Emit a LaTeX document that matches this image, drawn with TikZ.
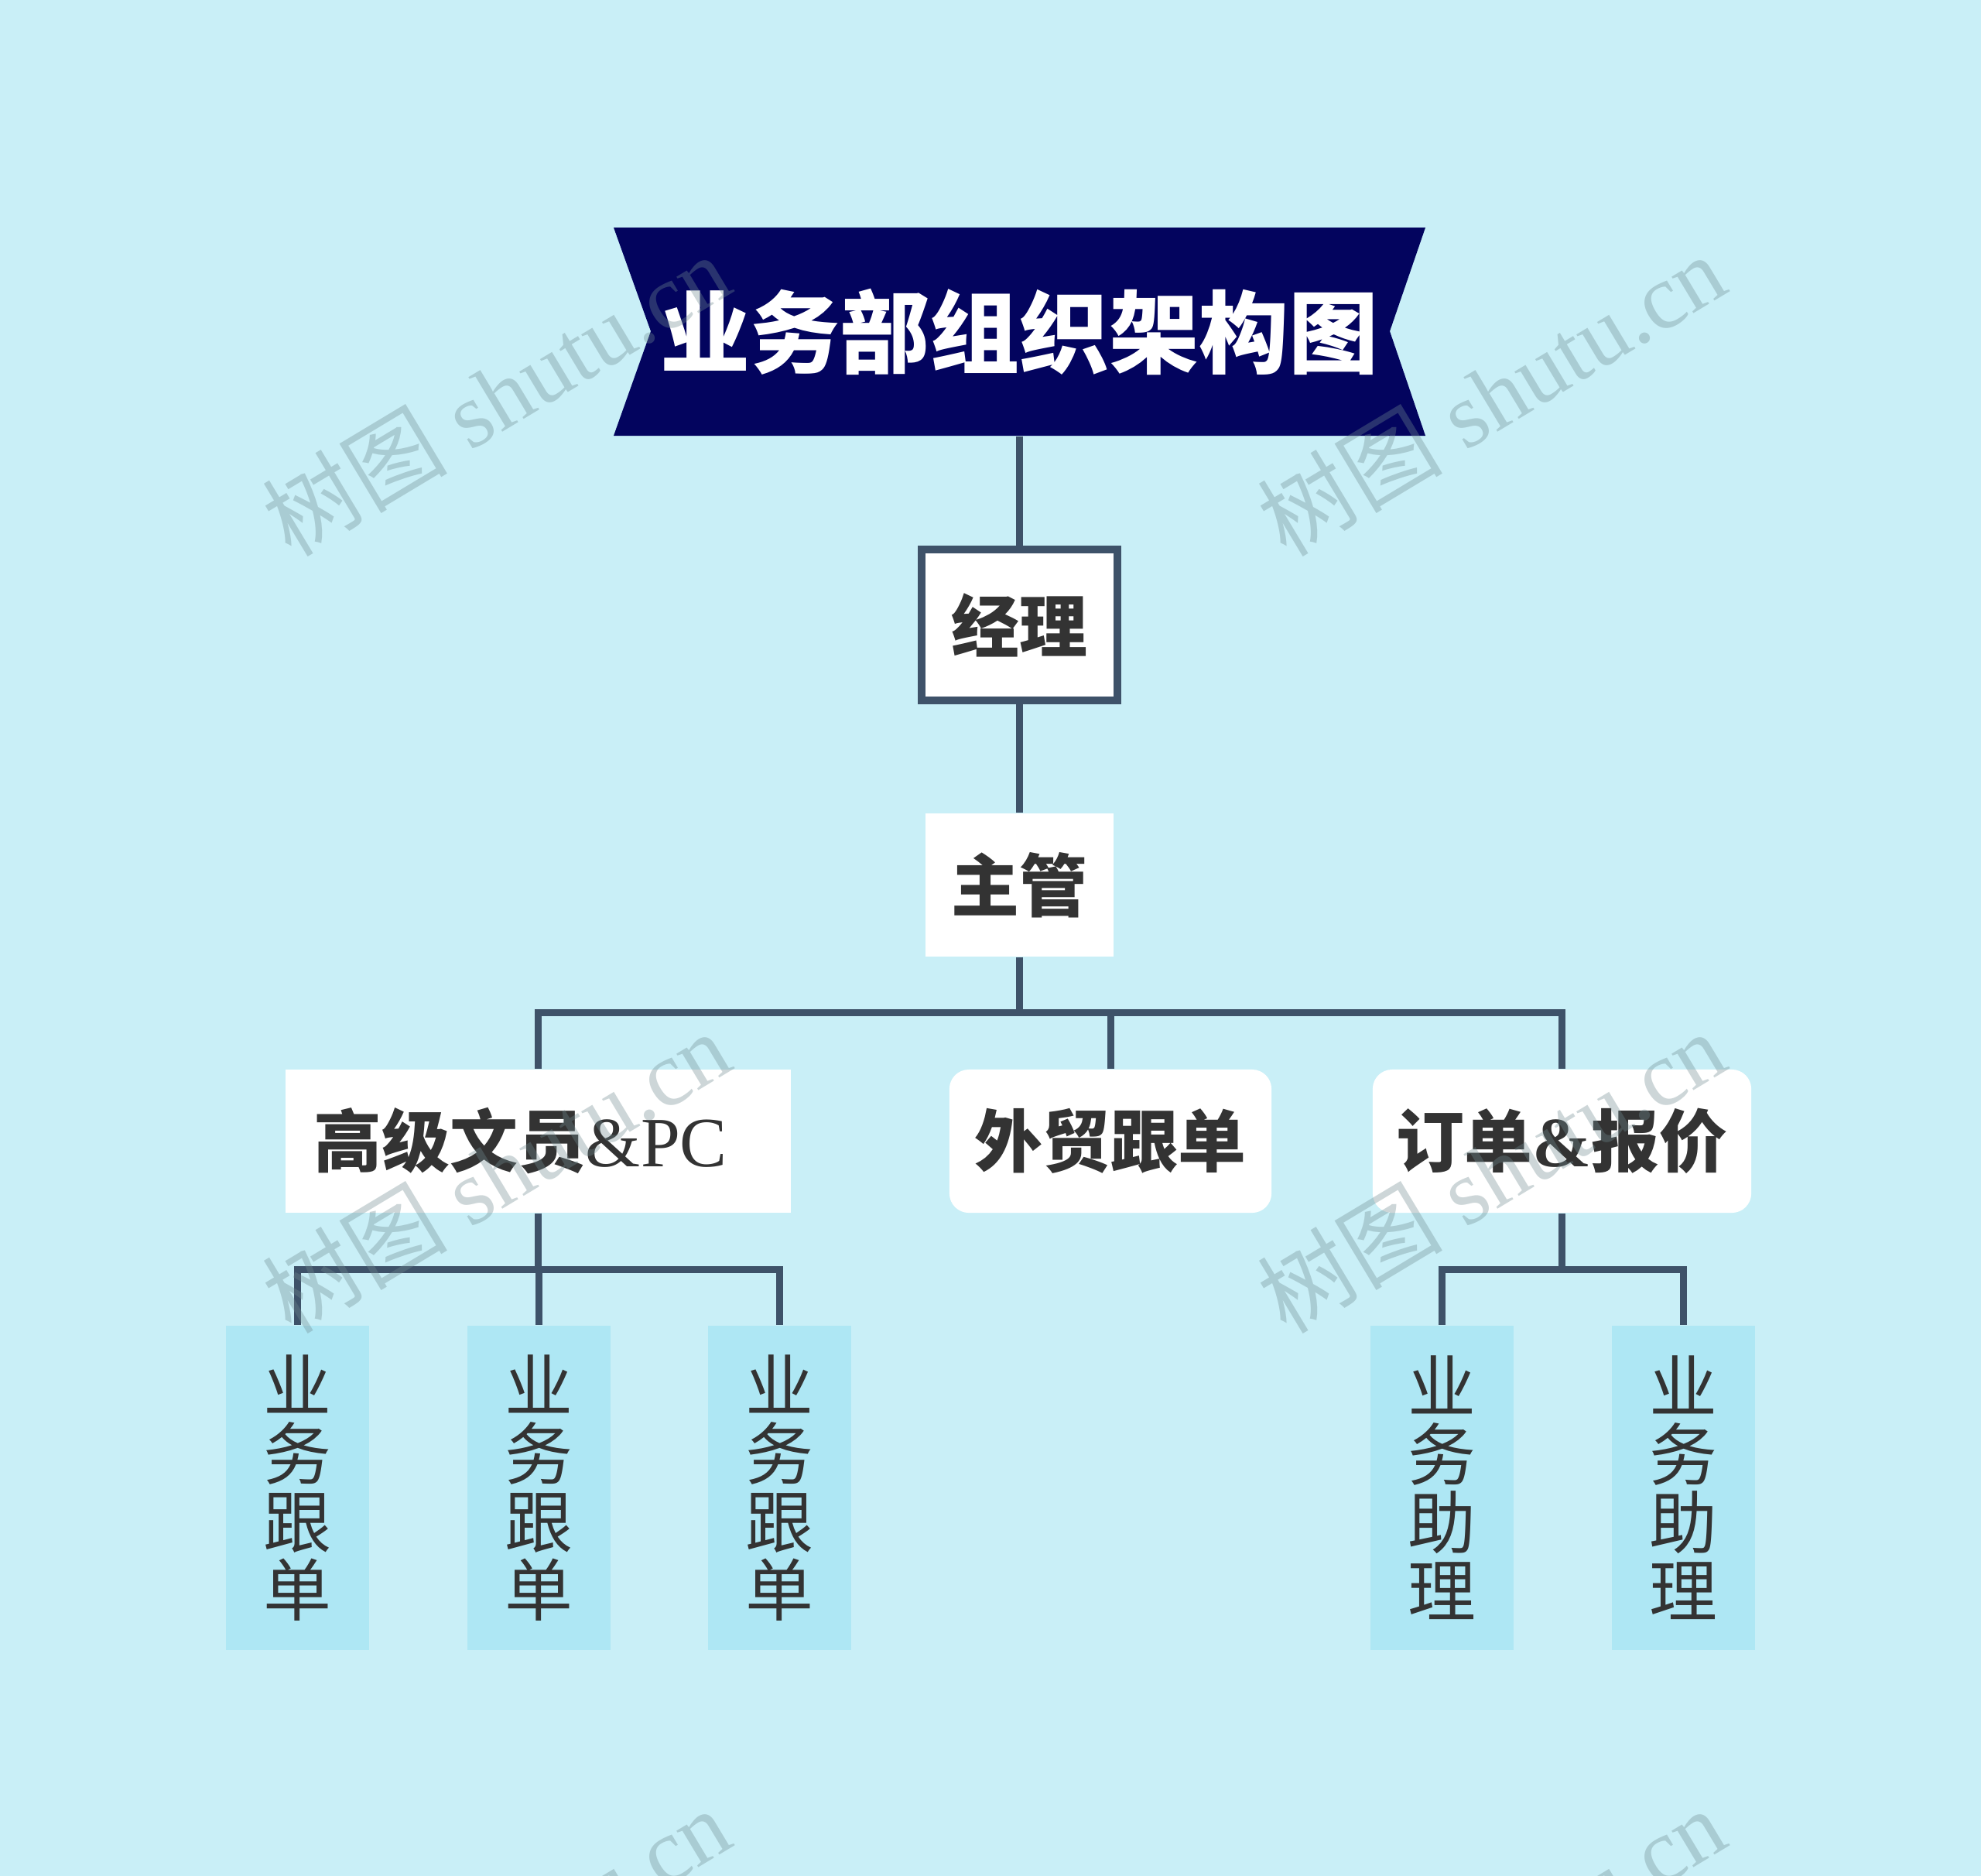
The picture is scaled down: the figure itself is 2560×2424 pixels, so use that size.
\documentclass[tikz,border=0pt]{standalone}
\usepackage{fontspec}
\setmainfont{Liberation Serif}
\newfontfamily\cjk{Noto Sans CJK SC}
\definecolor{sky}{HTML}{C9EFF7}
\definecolor{navy}{HTML}{03045E}
\definecolor{slate}{HTML}{3E5269}
\definecolor{pale}{HTML}{AEE7F4}
\definecolor{ink}{HTML}{333333}
\definecolor{mark}{HTML}{708B90}
\tikzset{
	head/.style = {fill = white, text = ink, inner sep = 0pt, minimum height = 1.85cm, font = \cjk\bfseries\fontsize{25}{25}\selectfont},
	staff/.style = {fill = pale, text = ink, inner sep = 0pt, minimum width = 1.85cm, minimum height = 4.19cm, align = center, font = \cjk\fontsize{25}{25}\selectfont},
	link/.style = {draw = slate, line width = 0.09cm},
	wmark/.style = {text = mark, opacity = 0.35, rotate = 31, font = \fontsize{34}{34}\selectfont}
}
\begin{document}
\begin{tikzpicture}[x = 0.01cm, y = -0.01cm]
	\useasboundingbox (0,0) rectangle (2560,2424);
	\clip (0,0) rectangle (2560,2424);
	\fill[sky] (0,0) rectangle (2560,2424);
	\fill[navy] (793,294) -- (1842,294) -- (1796,428) -- (1842,563) -- (793,563) -- (841,428) -- cycle;
	\node (title) at (1317.5,428.5) [minimum width = 10.49cm, minimum height = 2.69cm, text = white, font = \cjk\bfseries\fontsize{33}{33}\selectfont] {业务部组织架构图};
	\node (jl) at (1317.5,807.5) [head, draw = slate, line width = 0.1cm, minimum width = 2.53cm, minimum height = 1.95cm] {经理};
	\node (zg) at (1317.5,1143.5) [head, minimum width = 2.43cm] {主管};
	\node (gj) at (695.5,1474.5) [head, minimum width = 6.53cm, text width = 5.8cm, align = left] {高级文员{\rmfamily\mdseries\fontsize{26}{26}\selectfont\&PC}};
	\node (wm) at (1435,1474.5) [head, minimum width = 4.16cm, rounded corners = 0.25cm] {外贸跟单};
	\node (dd) at (2018.5,1474.5) [head, minimum width = 4.89cm, rounded corners = 0.25cm] {订单{\rmfamily\fontsize{26}{26}\selectfont\&}报价};
	\node (s1) at (384.5,1922.5) [staff] {业\\务\\跟\\单};
	\node (s2) at (696.5,1922.5) [staff] {业\\务\\跟\\单};
	\node (s3) at (1007.5,1922.5) [staff] {业\\务\\跟\\单};
	\node (a1) at (1863.5,1922.5) [staff] {业\\务\\助\\理};
	\node (a2) at (2175.5,1922.5) [staff] {业\\务\\助\\理};
	\draw[link] (title) -- (jl);
	\draw[link] (jl) -- (zg);
	\draw[link] (zg.south) -- ++(0,72) -| (gj.north);
	\draw[link] (zg.south) -- ++(0,72) -| (wm.north);
	\draw[link] (zg.south) -- ++(0,72) -| (dd.north);
	\draw[link] (gj.south) -- ++(0,73) -| (s1.north);
	\draw[link] (gj.south) -- ++(0,73) -| (s2.north);
	\draw[link] (gj.south) -- ++(0,73) -| (s3.north);
	\draw[link] (dd.south) -- ++(0,73) -| (a1.north);
	\draw[link] (dd.south) -- ++(0,73) -| (a2.north);
	\node (w1) at (641,510) [wmark] {{\cjk 树图} shutu.cn};
	\node (w2) at (1927,510) [wmark] {{\cjk 树图} shutu.cn};
	\node (w3) at (641,1514) [wmark] {{\cjk 树图} shutu.cn};
	\node (w4) at (1927,1514) [wmark] {{\cjk 树图} shutu.cn};
	\node (w5) at (641,2518) [wmark] {{\cjk 树图} shutu.cn};
	\node (w6) at (1927,2518) [wmark] {{\cjk 树图} shutu.cn};
\end{tikzpicture}
\end{document}
